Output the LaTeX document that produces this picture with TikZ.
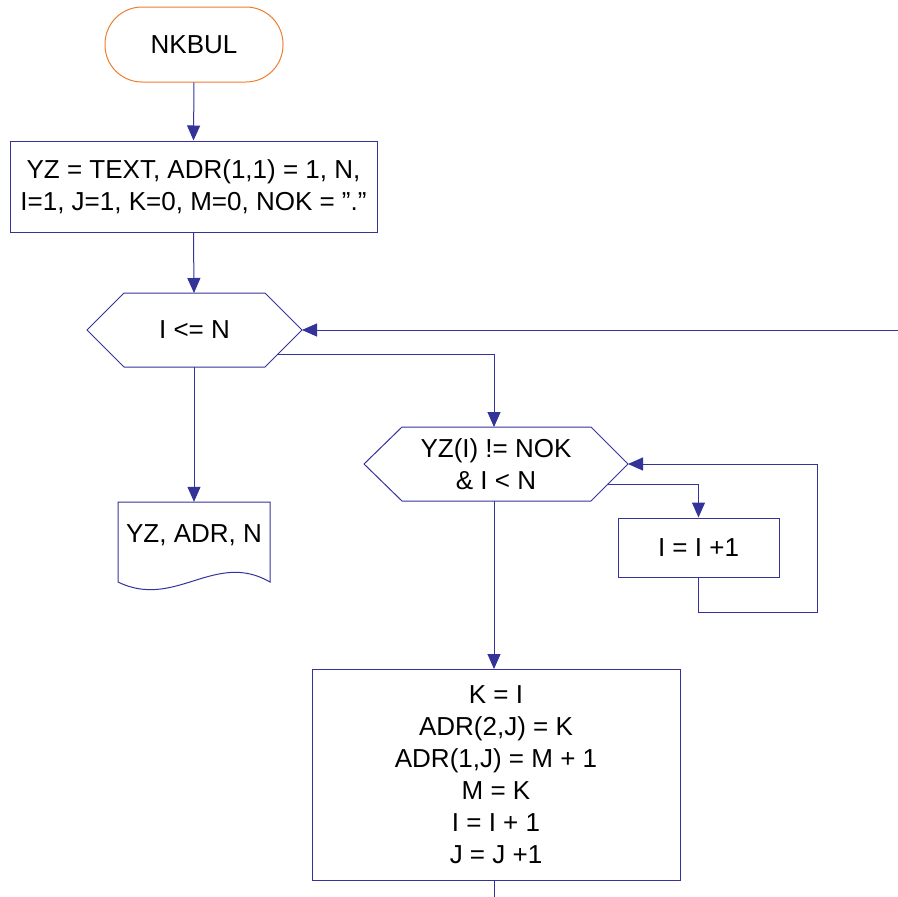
\documentclass[tikz,border=0pt]{standalone}
\usepackage{fontspec}
\setmainfont{Liberation Sans}
\usetikzlibrary{arrows.meta}
\definecolor{lineblue}{RGB}{51,51,153}
\definecolor{termorange}{RGB}{240,125,45}
\tikzset{
  every node/.style={font=\fontsize{26}{32}\selectfont, align=center, inner sep=0pt},
  conn/.style={draw=lineblue, line width=1pt},
  arr/.style={conn, -{Triangle[length=15pt,width=13pt]}},
  boxnode/.style={draw=lineblue, line width=1pt, rectangle},
  ghost/.style={rectangle},
  shapeline/.style={draw=lineblue, line width=1pt, line join=miter},
}
\begin{document}
\begin{tikzpicture}[x=1pt,y=-1pt]
\useasboundingbox (0,0) rectangle (898,897);
\fill[white] (0,0) rectangle (898,897);

% start terminator
\node[draw=termorange, line width=1pt, rectangle, rounded corners=37pt,
      minimum width=178pt, minimum height=75pt] (start) at (194,44.5) {NKBUL};

% init box
\node[boxnode, minimum width=367pt, minimum height=91pt] (init) at (193.5,186.5)
  {YZ = TEXT, ADR(1,1) = 1, N,\\I=1, J=1, K=0, M=0, NOK = ”.”};

% hexagon 1
\node[ghost, minimum width=215pt, minimum height=74pt] (h1) at (194.5,330) {I <= N};
\draw[shapeline] (87,330) -- (124,293) -- (265,293) -- (302,330) -- (265,367) -- (124,367) -- cycle;

% document
\node[ghost, minimum width=152pt, minimum height=66pt] (doc) at (194,535) {YZ, ADR, N};
\draw[shapeline] (118,502) -- (270,502) -- (270,582)
  .. controls (215,550) and (175,610) .. (118,582) -- cycle;

% hexagon 2
\node[ghost, minimum width=264pt, minimum height=74pt] (h2) at (496,464) {YZ(I) != NOK\\\& I < N};
\draw[shapeline] (364,464) -- (402,427) -- (591,427) -- (628,464) -- (591,501) -- (402,501) -- cycle;

% increment box
\node[boxnode, minimum width=161pt, minimum height=59pt] (inc) at (698.5,547.5) {I = I +1};

% body box
\node[boxnode, minimum width=368pt, minimum height=211pt] (body) at (496,774.5)
  {K = I\\ADR(2,J) = K\\ADR(1,J) = M + 1\\M = K\\I = I + 1\\J = J +1};

% helper coordinates
\coordinate (c1) at (277,354);
\coordinate (c2) at (608,484);
\coordinate (loopR) at (817,612);
\coordinate (inR) at (898,330);
\coordinate (outB) at (494,897);

% connectors
\draw[arr] (start.south) -- (init.north);
\draw[arr] (init.south) -- (194,293);
\draw[arr] (194,367) -- (doc.north);
\draw[arr] (c1) -| (494,427);
\draw[arr] (494,501) -- (494,669);
\draw[arr] (c2) -| (inc.north);
\draw[arr] (inc.south) |- (loopR) |- (628,464);
\draw[arr] (inR) -- (302,330);
\draw[conn] (494,880) -- (outB);
\end{tikzpicture}
\end{document}
